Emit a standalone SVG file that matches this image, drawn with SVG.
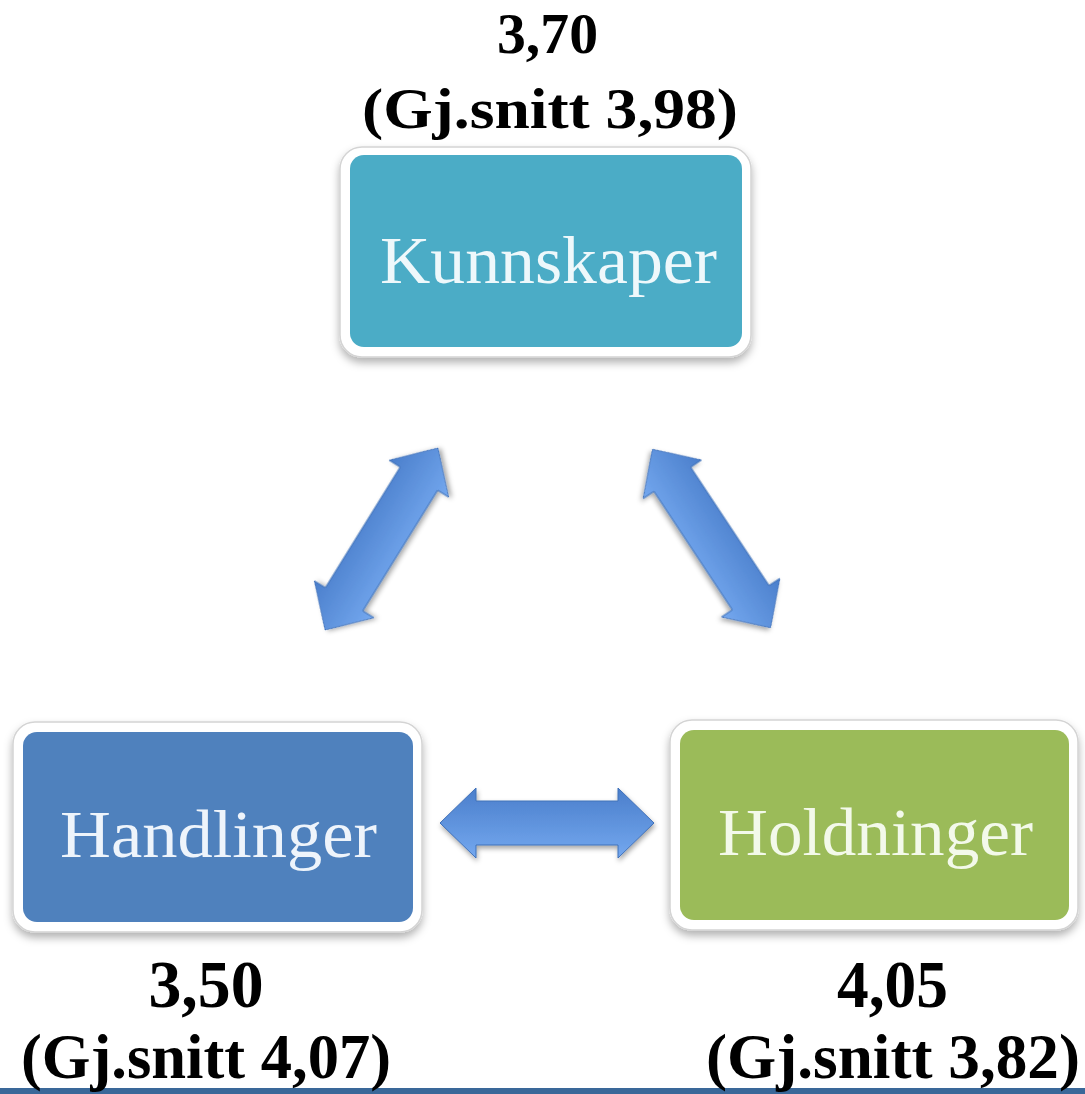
<svg xmlns="http://www.w3.org/2000/svg" width="1085" height="1094" viewBox="0 0 1085 1094">
  <style>
    .score { font-family: "Liberation Serif", "Times New Roman", serif; font-weight: bold; fill: #000; text-anchor: middle; }
    .label { font-family: "Liberation Serif", "Times New Roman", serif; font-size: 68px; text-anchor: middle; }
    .frame { fill: #ffffff; stroke: #d4d4d4; stroke-width: 1.5; filter: url(#boxShadow); }
    .arrow { fill: url(#arrowFill); stroke: #3f70b8; stroke-width: 1; filter: url(#arrowShadow); }
  </style>
  <defs>
    <filter id="boxShadow" x="-10%" y="-10%" width="120%" height="130%">
      <feDropShadow dx="0" dy="5" stdDeviation="4" flood-color="#000" flood-opacity="0.3"/>
    </filter>
    <filter id="arrowShadow" x="-20%" y="-30%" width="140%" height="160%">
      <feDropShadow dx="1" dy="3" stdDeviation="2.5" flood-color="#000" flood-opacity="0.35"/>
    </filter>
    <linearGradient id="arrowFill" gradientUnits="userSpaceOnUse" x1="0" y1="-35" x2="0" y2="35">
      <stop offset="0" stop-color="#4a7ecb"/>
      <stop offset="1" stop-color="#74a8ef"/>
    </linearGradient>
    <path id="dblArrow" d="M -107,0 L -71,-35 L -71,-22 L 71,-22 L 71,-35 L 107,0 L 71,35 L 71,22 L -71,22 L -71,35 Z"/>
  </defs>

  <rect width="1085" height="1094" fill="#ffffff"/>

  <!-- connectors -->
  <g id="connectors">
    <use href="#dblArrow" class="arrow" transform="translate(381.5,539) rotate(-58.2)"/>
    <use href="#dblArrow" class="arrow" transform="translate(711.5,538.5) rotate(56.5)"/>
    <use href="#dblArrow" class="arrow" transform="translate(547,823)"/>
  </g>

  <!-- Kunnskaper -->
  <g id="node-kunnskaper">
    <rect class="frame" x="340" y="147" width="411" height="210" rx="22"/>
    <rect x="350" y="155" width="392" height="192" rx="14" fill="#4bacc6"/>
    <text class="label" x="548.5" y="283" fill="#eef8fb" textLength="337" lengthAdjust="spacingAndGlyphs">Kunnskaper</text>
  </g>

  <!-- Handlinger -->
  <g id="node-handlinger">
    <rect class="frame" x="13" y="722" width="409" height="210" rx="22"/>
    <rect x="23" y="732" width="390" height="190" rx="14" fill="#4f81bd"/>
    <text class="label" x="218.5" y="857" fill="#eef4fb" textLength="317" lengthAdjust="spacingAndGlyphs">Handlinger</text>
  </g>

  <!-- Holdninger -->
  <g id="node-holdninger">
    <rect class="frame" x="670" y="720" width="408" height="210" rx="22"/>
    <rect x="680" y="730" width="389" height="190" rx="14" fill="#9bbb59"/>
    <text class="label" x="875.5" y="855" fill="#f3f9ea" textLength="315" lengthAdjust="spacingAndGlyphs">Holdninger</text>
  </g>

  <!-- bottom rule -->
  <rect x="0" y="1088" width="1085" height="6" fill="#3a6899"/>

  <!-- scores -->
  <g id="score-kunnskaper">
    <text class="score" x="547.5" y="53" font-size="57" textLength="101" lengthAdjust="spacingAndGlyphs">3,70</text>
    <text class="score" x="550" y="128" font-size="58" textLength="376" lengthAdjust="spacingAndGlyphs">(Gj.snitt 3,98)</text>
  </g>
  <g id="score-handlinger">
    <text class="score" x="206" y="1007" font-size="67" textLength="115" lengthAdjust="spacingAndGlyphs">3,50</text>
    <text class="score" x="206" y="1078" font-size="64" textLength="370" lengthAdjust="spacingAndGlyphs">(Gj.snitt 4,07)</text>
  </g>
  <g id="score-holdninger">
    <text class="score" x="892.5" y="1007" font-size="67" textLength="111" lengthAdjust="spacingAndGlyphs">4,05</text>
    <text class="score" x="893" y="1078" font-size="64" textLength="374" lengthAdjust="spacingAndGlyphs">(Gj.snitt 3,82)</text>
  </g>
</svg>
